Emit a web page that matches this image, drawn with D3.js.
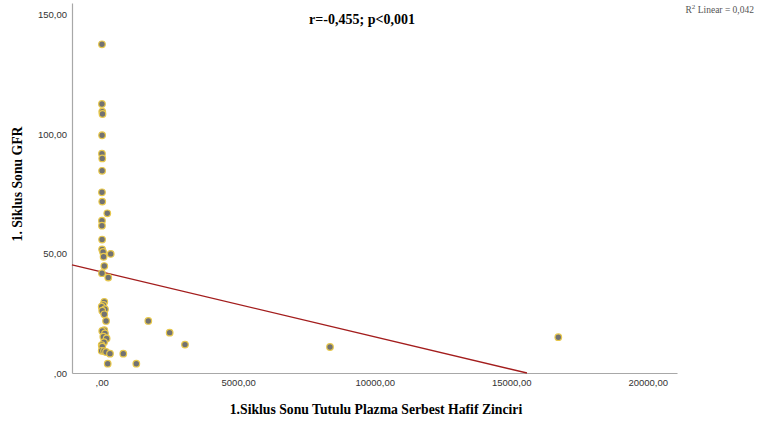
<!DOCTYPE html>
<html>
<head>
<meta charset="utf-8">
<script src="https://cdn.jsdelivr.net/npm/d3@7"></script>
<style>
  body { margin: 0; background: #fff; }
  svg { display: block; }
</style>
</head>
<body>
<div id="chart"></div>
<script>
// serum free light chain (x) vs GFR (y)
const flc = [10, 10, 20, 30, 15, 10, 20, 15, 10, 20, 205, 10, 10, 15, 15, 50, 330, 70, 95, 10, 240,
  95, 60, 0, 120, 20, 95, 160, 95, 20, 120, 60, 180, 85, 0, 20, 0, 85, 160, 304, 791, 220, 1268,
  1707, 2490, 3051, 8363, 16725];
const gfr = [137.7, 112.7, 109.5, 108.5, 99.6, 91.9, 89.9, 84.7, 75.7, 71.8, 66.9, 63.8, 61.7, 55.9, 51.8, 50.7, 49.9, 48.7, 44.8, 41.8, 40,
  29.8, 28.5, 27.8, 26.7, 26.1, 24.6, 21.8, 17.9, 17.6, 16.6, 15.2, 14.5, 12.9, 11.7, 11, 9.3, 9.2, 8.8, 8.1, 8.1, 3.9, 3.9,
  21.8, 16.9, 11.9, 10.9, 15];

const xTicks = [0, 5000, 10000, 15000, 20000];
const yTicks = [0, 50, 100, 150];

// fitted line as shown (R2 linear = 0,042)
const fitIntercept = 42.34;
const fitSlope = -0.002718;

const width = 759, height = 423;
const plot = {left: 72, right: 677, top: 3, bottom: 373};

const svg = d3.select('#chart').append('svg')
    .attr('width', width)
    .attr('height', height);

const x = d3.scaleLinear().domain([-1088, 21073]).range([plot.left, plot.right]);
const y = d3.scaleLinear().domain([0, 155]).range([plot.bottom, plot.top]);

const fmt = v => (v === 0 ? '' : String(v)) + ',00';

const xAxis = svg.append('g')
    .attr('transform', 'translate(0,' + plot.bottom + ')')
    .call(d3.axisBottom(x).tickValues(xTicks).tickFormat(fmt).tickSize(0).tickPadding(6));

const yAxis = svg.append('g')
    .attr('transform', 'translate(' + plot.left + ',0)')
    .call(d3.axisLeft(y).tickValues(yTicks).tickFormat(fmt).tickSize(0).tickPadding(5));

[xAxis, yAxis].forEach(a => {
  a.select('.domain').attr('stroke', '#a8a8a8').attr('stroke-width', 1.2);
  a.selectAll('text')
      .attr('fill', '#333')
      .style('font-family', '"Liberation Sans", Arial, sans-serif')
      .style('font-size', '9.5px');
});

// regression line, clipped where it reaches zero
const xEnd = -fitIntercept / fitSlope;
const x0 = x.domain()[0];
svg.append('line')
    .attr('x1', x(x0)).attr('y1', y(fitIntercept + fitSlope * x0))
    .attr('x2', x(xEnd)).attr('y2', y(0))
    .attr('stroke', '#a31d1d')
    .attr('stroke-width', 1.3);

svg.append('g').selectAll('circle')
    .data(flc.map((v, i) => [v, gfr[i]]))
    .join('circle')
    .attr('cx', d => x(d[0]))
    .attr('cy', d => y(d[1]))
    .attr('r', 3.3)
    .attr('fill', '#727272')
    .attr('stroke', '#e8c84c')
    .attr('stroke-width', 1.2);

const serif = '"Liberation Serif", "Times New Roman", serif';

svg.append('text')
    .attr('x', 362).attr('y', 24)
    .attr('text-anchor', 'middle')
    .style('font-family', serif).style('font-weight', 'bold').style('font-size', '14px')
    .text('r=-0,455; p<0,001');

const r2 = svg.append('text')
    .attr('x', 754).attr('y', 13)
    .attr('text-anchor', 'end')
    .attr('fill', '#555')
    .style('font-family', serif).style('font-size', '9.5px');
r2.append('tspan').text('R');
r2.append('tspan').attr('dy', -4).style('font-size', '7px').text('2');
r2.append('tspan').attr('dy', 4).text(' Linear = 0,042');

svg.append('text')
    .attr('x', 376).attr('y', 414)
    .attr('text-anchor', 'middle')
    .style('font-family', serif).style('font-weight', 'bold').style('font-size', '13.7px')
    .text('1.Siklus Sonu Tutulu Plazma Serbest Hafif Zinciri');

svg.append('text')
    .attr('transform', 'translate(22,184) rotate(-90)')
    .attr('text-anchor', 'middle')
    .style('font-family', serif).style('font-weight', 'bold').style('font-size', '13.7px')
    .text('1. Siklus Sonu GFR');
</script>
</body>
</html>
